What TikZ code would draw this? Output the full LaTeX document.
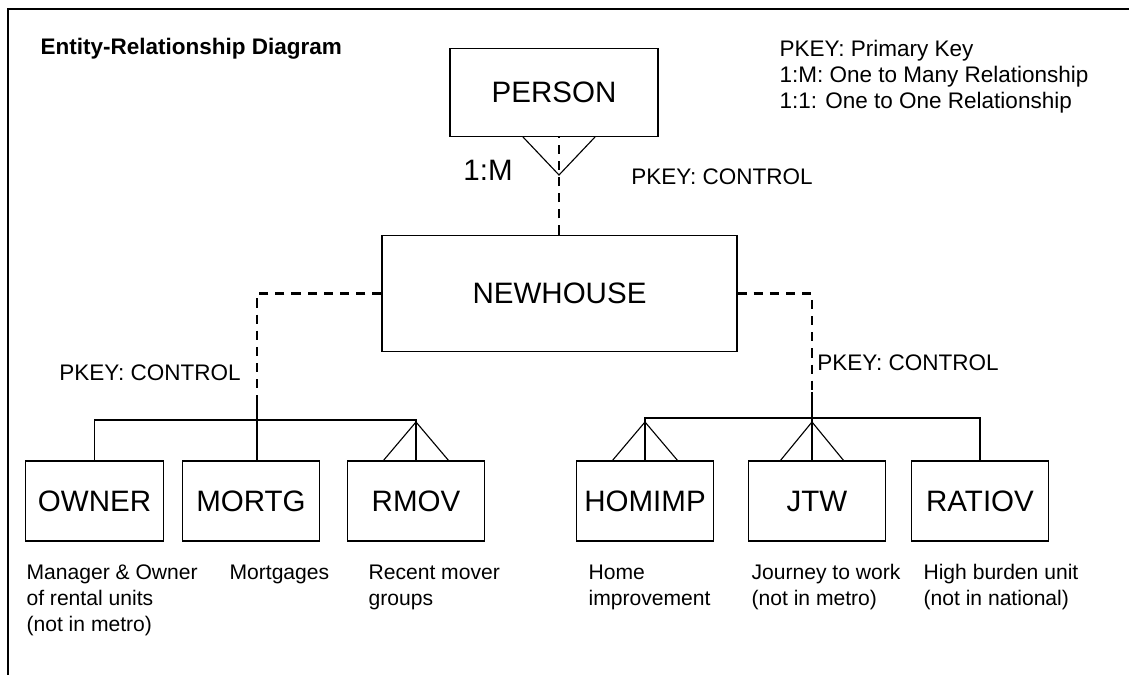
\documentclass[tikz,border=0pt]{standalone}
\usepackage{fontspec}
\setmainfont{Liberation Sans}
\usepackage{tikz}
\usetikzlibrary{positioning}
\usetikzlibrary{calc}
\newcommand{\manyfoot}[3]{\draw (#1) ++(-#2,#3) -- (#1) -- ++(#2,#3);}
\tikzset{
  entity/.style={draw, line width=0.8pt, inner sep=0pt, font=\fontsize{21}{24}\selectfont},
  child/.style={entity, minimum width=3.43cm, minimum height=2.0cm},
  dashline/.style={line width=1.6pt, dash pattern=on 6.5pt off 5pt},
  small/.style={font=\fontsize{15}{18.5}\selectfont, inner sep=0pt},
  label/.style={font=\fontsize{16}{18.5}\selectfont, inner sep=0pt},
  note/.style={small, align=left, anchor=north west}
}

\begin{document}
\begin{tikzpicture}[x=0.025cm, y=-0.025cm, line width=0.8pt]
  \useasboundingbox (0,0) rectangle (1129,675);
  \draw (1129,9) -- (8,9) -- (8,675);
  \node[label, anchor=west, font=\fontsize{16}{18.5}\selectfont\bfseries] (title) at (40,49) {Entity-Relationship Diagram};
  \node[note, label, align=left, anchor=north west] (legend) at (779,40) {PKEY: Primary Key\\1:M: One to Many Relationship\\1:1: One to One Relationship};
  % entities
  \node[entity, minimum width=5.2cm, minimum height=2.22cm] (person) at (554,92.5) {PERSON};
  \node[entity, minimum width=8.87cm, minimum height=2.92cm] (newhouse) at (559.5,293.5) {NEWHOUSE};
  \node[child] (owner) at (94.5,501) {OWNER};
  \node[child] (mortg) at (251,501) {MORTG};
  \node[child] (rmov) at (416,501) {RMOV};
  \node[child] (homimp) at (645,501) {HOMIMP};
  \node[child] (jtw) at (817,501) {JTW};
  \node[child] (ratiov) at (980,501) {RATIOV};
  % person -> newhouse
  \coordinate (pfoot) at (559,175);
  \manyfoot{pfoot}{36}{-38}
  \draw[dashline, line width=1.1pt] (newhouse.north -| pfoot) -- (person.south -| pfoot);
  \node[entity, draw=none] (pm) at (488,170) {1:M};
  \node[label] (pkeytop) at (722,177) {PKEY: CONTROL};
  % left group
  \coordinate (lsplit) at (257,402);
  \coordinate (lbar) at (257,420);
  \draw[dashline] (newhouse.west) -| (lsplit);
  \draw (lsplit) -- (lsplit |- mortg.north);
  \draw (owner.north) |- (lbar) -| (rmov.north);
  \coordinate (rmfoot) at (416,422);
  \manyfoot{rmfoot}{33}{39}
  \node[label] (pkeyleft) at (150,373) {PKEY: CONTROL};
  % right group
  \coordinate (rsplit) at (812,392);
  \coordinate (rbar) at (812,418);
  \draw[dashline] (newhouse.east) -| (rsplit);
  \draw (rsplit) -- (rsplit |- jtw.north);
  \draw (homimp.north) |- (rbar) -| (ratiov.north);
  \coordinate (hifoot) at (645,422);
  \manyfoot{hifoot}{33}{39}
  \coordinate (jtfoot) at (812,422);
  \manyfoot{jtfoot}{32}{39}
  \node[label] (pkeyright) at (908,363) {PKEY: CONTROL};
  % descriptions
  \node[note] (ownertxt) at (26,564) {Manager \& Owner\\of rental units\\(not in metro)};
  \node[note] (mortgtxt) at (229,564) {Mortgages};
  \node[note] (rmovtxt) at (368,564) {Recent mover\\groups};
  \node[note] (homimptxt) at (588,564) {Home\\improvement};
  \node[note] (jtwtxt) at (751,564) {Journey to work\\(not in metro)};
  \node[note] (ratiovtxt) at (923,564) {High burden unit\\(not in national)};
\end{tikzpicture}
\end{document}
